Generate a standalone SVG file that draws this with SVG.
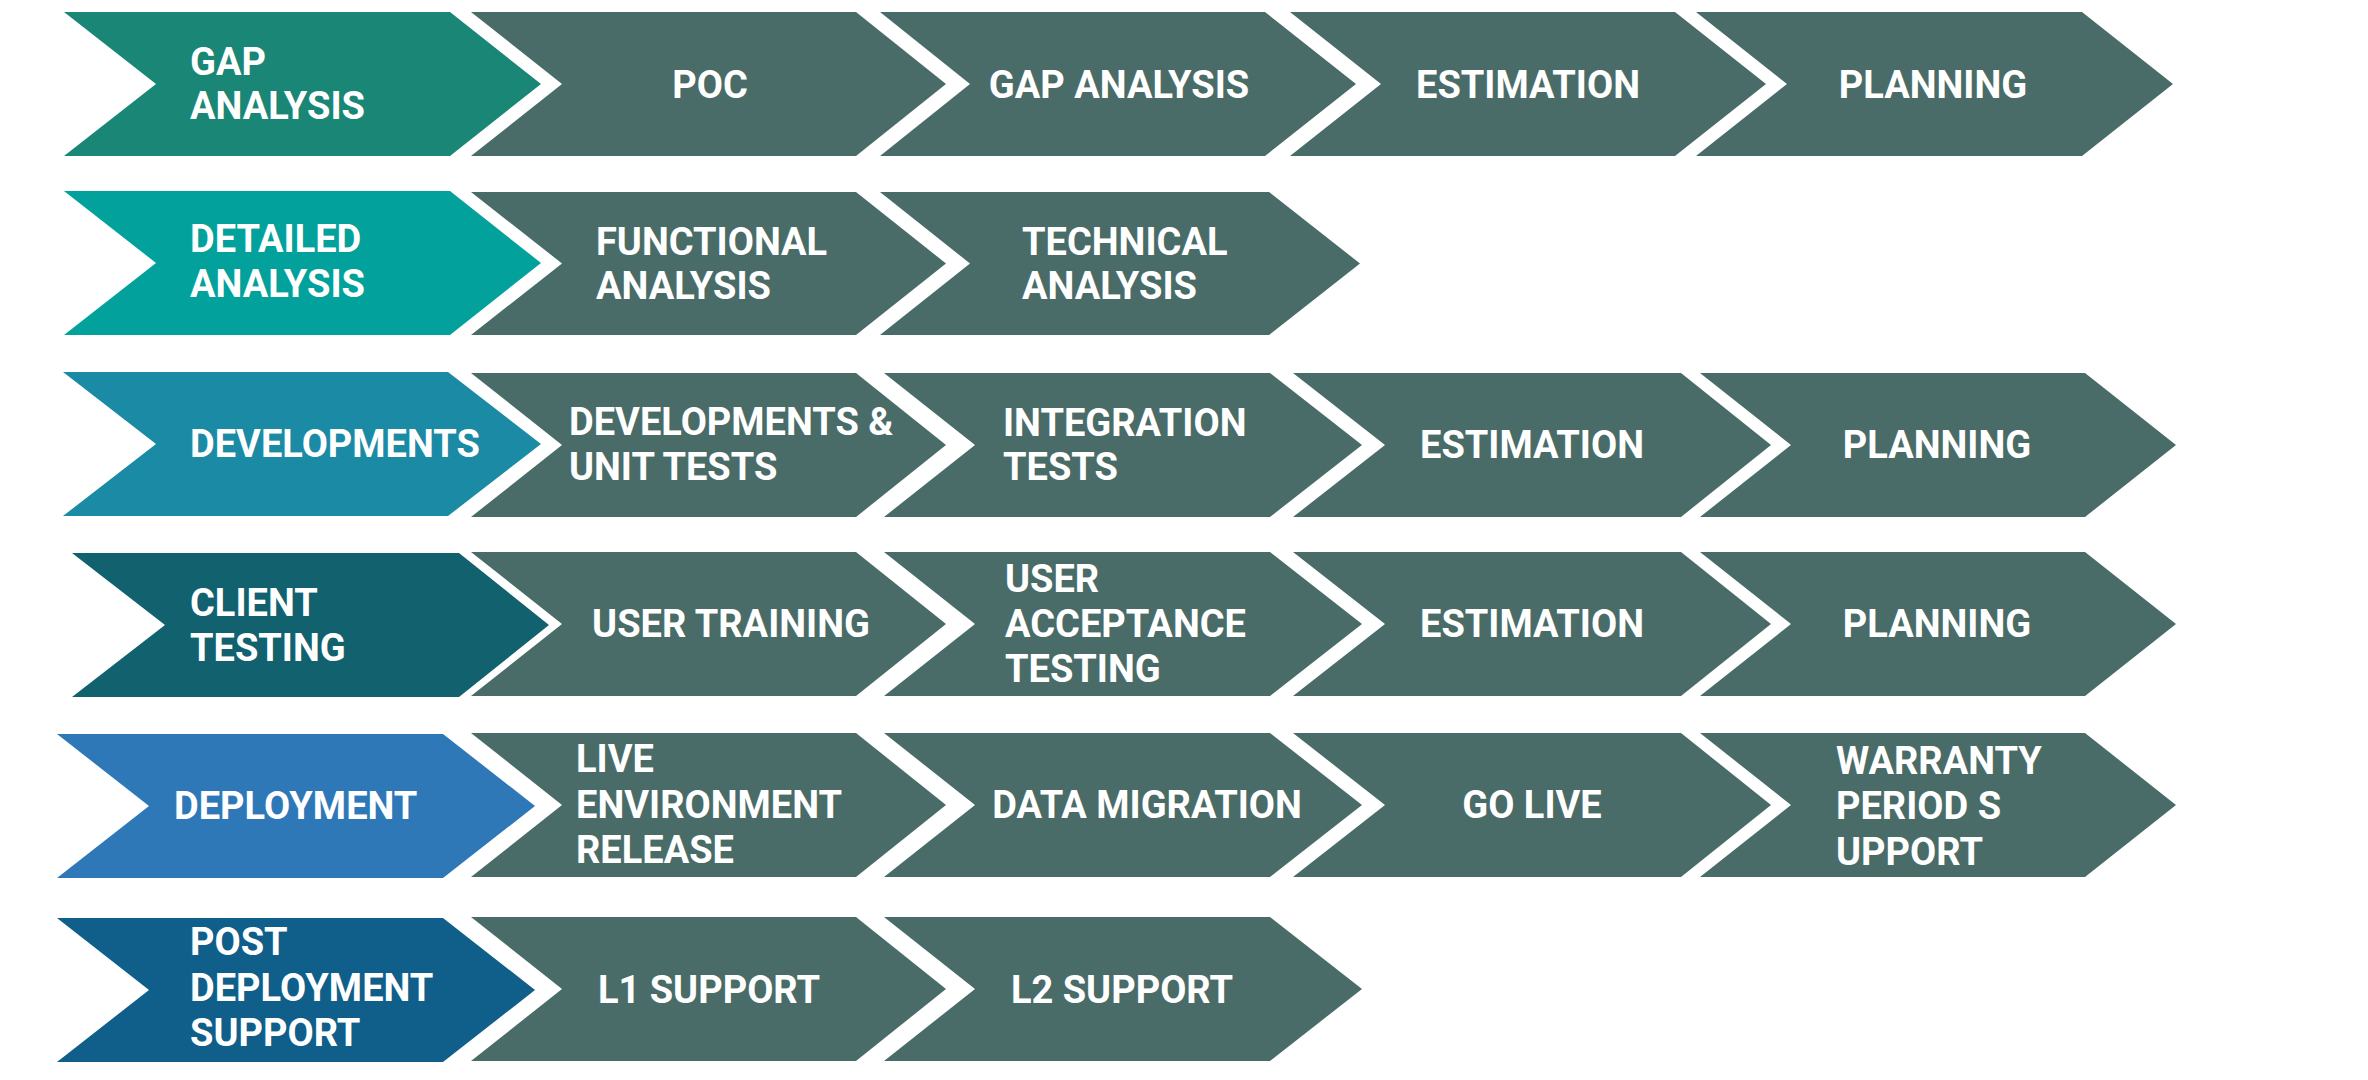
<svg xmlns="http://www.w3.org/2000/svg" width="2368" height="1080" viewBox="0 0 2368 1080">
<style>
.g{fill:#4a6c68}
.t{font-family:Roboto,"Liberation Sans",sans-serif;font-weight:700;font-size:38px;fill:#fff}
.c{text-anchor:middle}
</style>
<rect width="2368" height="1080" fill="#fff"/>
<g id="connectors"></g>
<!-- Row 1 -->
<g id="r1-gap-analysis"><polygon fill="#1a8676" points="64,12 450,12 541,84 450,156 64,156 156,84"/><text class="t" x="190" y="75">GAP</text><text class="t" x="190" y="119">ANALYSIS</text></g>
<g id="r1-poc"><polygon class="g" points="471,12 856,12 946,84 856,156 471,156 562,84"/><text class="t c" x="710" y="98">POC</text></g>
<g id="r1-gap"><polygon class="g" points="880,12 1265,12 1356,84 1265,156 880,156 970,84"/><text class="t c" x="1119" y="98">GAP ANALYSIS</text></g>
<g id="r1-estimation"><polygon class="g" points="1290,12 1675,12 1766,84 1675,156 1290,156 1381,84"/><text class="t c" x="1528" y="98">ESTIMATION</text></g>
<g id="r1-planning"><polygon class="g" points="1696,12 2082,12 2173,84 2082,156 1696,156 1787,84"/><text class="t c" x="1933" y="98">PLANNING</text></g>
<!-- Row 2 -->
<g id="r2-detailed"><polygon fill="#02a19b" points="64,191 450,191 541,263 450,335 64,335 156,263"/><text class="t" x="190" y="252">DETAILED</text><text class="t" x="190" y="297">ANALYSIS</text></g>
<g id="r2-functional"><polygon class="g" points="471,192 856,192 946,263.5 856,335 471,335 562,263.5"/><text class="t" x="596" y="255">FUNCTIONAL</text><text class="t" x="596" y="299">ANALYSIS</text></g>
<g id="r2-technical"><polygon class="g" points="880,192 1269,192 1360,263.5 1269,335 880,335 970,263.5"/><text class="t" x="1022" y="255">TECHNICAL</text><text class="t" x="1022" y="299">ANALYSIS</text></g>
<!-- Row 3 -->
<g id="r3-developments"><polygon fill="#1b8aa4" points="63,372 448,372 541,444 448,516 63,516 156,444"/><text class="t" x="190" y="457">DEVELOPMENTS</text></g>
<g id="r3-dev-unit"><polygon class="g" points="471,373 856,373 946,445 856,517 471,517 562,445"/><text class="t" x="569" y="435">DEVELOPMENTS &amp;</text><text class="t" x="569" y="480">UNIT TESTS</text></g>
<g id="r3-integration"><polygon class="g" points="884,373 1270,373 1362,445 1270,517 884,517 975,445"/><text class="t" x="1003" y="436">INTEGRATION</text><text class="t" x="1003" y="480">TESTS</text></g>
<g id="r3-estimation"><polygon class="g" points="1293,373 1681,373 1771,445 1681,517 1293,517 1385,445"/><text class="t c" x="1532" y="458">ESTIMATION</text></g>
<g id="r3-planning"><polygon class="g" points="1700,373 2085,373 2176,445 2085,517 1700,517 1791,445"/><text class="t c" x="1937" y="458">PLANNING</text></g>
<!-- Row 4 -->
<g id="r4-client"><polygon fill="#12616f" points="72,553 459,553 549,625 459,697 72,697 165,625"/><text class="t" x="190" y="616">CLIENT</text><text class="t" x="190" y="661">TESTING</text></g>
<g id="r4-training"><polygon class="g" points="471,552 856,552 946,624 856,696 471,696 562,624"/><text class="t c" x="731" y="637">USER TRAINING</text></g>
<g id="r4-uat"><polygon class="g" points="884,552 1270,552 1362,624 1270,696 884,696 975,624"/><text class="t" x="1005" y="592">USER</text><text class="t" x="1005" y="637">ACCEPTANCE</text><text class="t" x="1005" y="682">TESTING</text></g>
<g id="r4-estimation"><polygon class="g" points="1293,552 1681,552 1771,624 1681,696 1293,696 1385,624"/><text class="t c" x="1532" y="637">ESTIMATION</text></g>
<g id="r4-planning"><polygon class="g" points="1700,552 2085,552 2176,624 2085,696 1700,696 1791,624"/><text class="t c" x="1937" y="637">PLANNING</text></g>
<!-- Row 5 -->
<g id="r5-deployment"><polygon fill="#2f78b8" points="57,734 443,734 535,806 443,878 57,878 149,806"/><text class="t" x="174" y="819">DEPLOYMENT</text></g>
<g id="r5-live-env"><polygon class="g" points="471,733 856,733 946,805 856,877 471,877 562,805"/><text class="t" x="576" y="772">LIVE</text><text class="t" x="576" y="818">ENVIRONMENT</text><text class="t" x="576" y="863">RELEASE</text></g>
<g id="r5-data-migration"><polygon class="g" points="884,733 1270,733 1362,805 1270,877 884,877 975,805"/><text class="t c" x="1147" y="818">DATA MIGRATION</text></g>
<g id="r5-go-live"><polygon class="g" points="1293,733 1681,733 1771,805 1681,877 1293,877 1385,805"/><text class="t c" x="1532" y="818">GO LIVE</text></g>
<g id="r5-warranty"><polygon class="g" points="1700,733 2085,733 2176,805 2085,877 1700,877 1791,805"/><text class="t" x="1836" y="774">WARRANTY</text><text class="t" x="1836" y="819">PERIOD S</text><text class="t" x="1836" y="865">UPPORT</text></g>
<!-- Row 6 -->
<g id="r6-post-deployment"><polygon fill="#0f5f8a" points="57,918 443,918 535,990 443,1062 57,1062 149,990"/><text class="t" x="190" y="955">POST</text><text class="t" x="190" y="1001">DEPLOYMENT</text><text class="t" x="190" y="1046">SUPPORT</text></g>
<g id="r6-l1"><polygon class="g" points="471,917 856,917 946,989 856,1061 471,1061 562,989"/><text class="t c" x="709" y="1003">L1 SUPPORT</text></g>
<g id="r6-l2"><polygon class="g" points="884,917 1270,917 1362,989 1270,1061 884,1061 975,989"/><text class="t c" x="1122" y="1003">L2 SUPPORT</text></g>
</svg>
